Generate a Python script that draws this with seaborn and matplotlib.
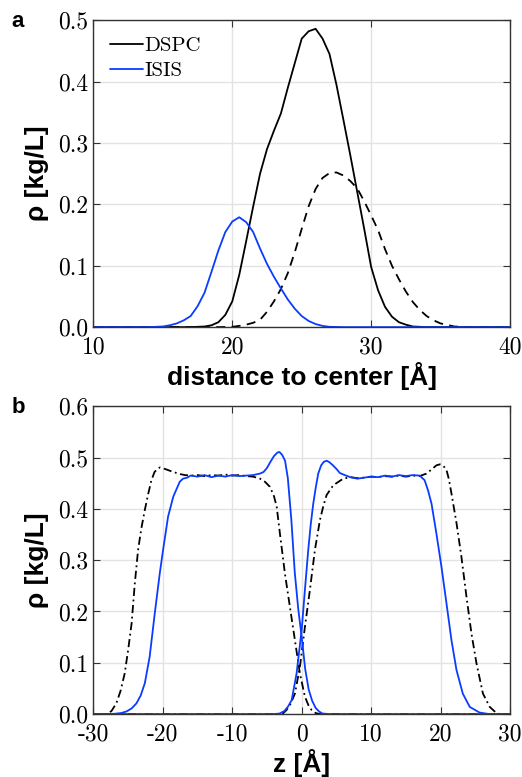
import matplotlib
matplotlib.use("Agg")
import matplotlib.pyplot as plt
import seaborn as sns

# panel a: density vs distance to center
dspc_x = [10, 17, 18, 18.5, 19, 19.5, 20, 20.5, 21, 21.5, 22, 22.5, 23, 23.5, 24, 24.5,
          25, 25.5, 26, 26.5, 27, 27.5, 28, 28.5, 29, 29.5, 30, 30.5, 31, 31.5, 32, 32.5,
          33, 34, 40]
dspc_y = [0, 0, 0.001, 0.003, 0.008, 0.02, 0.042, 0.085, 0.14, 0.196, 0.25, 0.29, 0.32,
          0.348, 0.39, 0.43, 0.47, 0.482, 0.486, 0.47, 0.445, 0.395, 0.338, 0.28, 0.22,
          0.16, 0.098, 0.06, 0.033, 0.017, 0.008, 0.004, 0.001, 0, 0]

dspc2_x = [10, 19, 20, 20.5, 21, 21.5, 22, 22.5, 23, 23.5, 24, 24.5, 25, 25.5, 26, 26.5,
           27, 27.5, 28, 28.5, 29, 29.5, 30, 30.5, 31, 31.5, 32, 32.5, 33, 33.5, 34, 34.5,
           35, 36, 37, 40]
dspc2_y = [0, 0, 0.0005, 0.002, 0.004, 0.007, 0.012, 0.025, 0.042, 0.062, 0.088, 0.122,
           0.16, 0.197, 0.225, 0.243, 0.251, 0.252, 0.247, 0.238, 0.226, 0.205, 0.182,
           0.158, 0.127, 0.1, 0.078, 0.058, 0.041, 0.028, 0.018, 0.011, 0.006, 0.001, 0, 0]

isis_x = [10, 14, 15, 15.5, 16, 16.5, 17, 17.5, 18, 18.5, 19, 19.5, 20, 20.5, 21, 21.5,
          22, 22.5, 23, 23.5, 24, 24.5, 25, 25.5, 26, 26.5, 27, 28, 40]
isis_y = [0, 0, 0.001, 0.003, 0.006, 0.011, 0.018, 0.034, 0.056, 0.09, 0.125, 0.155,
          0.172, 0.179, 0.171, 0.155, 0.128, 0.103, 0.082, 0.063, 0.045, 0.03, 0.018,
          0.01, 0.005, 0.002, 0.0005, 0, 0]

# panel b: density profile along z
isis_l_z = [-30, -27, -26, -25.25, -24.5, -23.8, -23.2, -22.6, -21.9, -21.17, -20.45,
            -19.97, -19.25, -18.5, -17.57, -17.1, -16.5, -16, -15, -14, -13, -12, -11,
            -10, -9, -8, -7, -6, -5.5, -5, -4.5, -4, -3.5, -3.2, -2.8, -2.4, -2.0, -1.5,
            -1.0, -0.5, 0, 0.5, 1.0, 1.5, 2.0, 2.5, 3.0, 4, 30]
isis_l_y = [0, 0.0005, 0.002, 0.005, 0.011, 0.021, 0.036, 0.06, 0.112, 0.196, 0.274,
            0.32, 0.385, 0.424, 0.453, 0.459, 0.461, 0.465, 0.463, 0.466, 0.462, 0.465,
            0.463, 0.466, 0.464, 0.465, 0.466, 0.469, 0.472, 0.48, 0.492, 0.503, 0.51,
            0.511, 0.505, 0.494, 0.46, 0.38, 0.276, 0.205, 0.15, 0.088, 0.048, 0.026,
            0.012, 0.005, 0.001, 0, 0]

isis_r_z = [-30, -4, -3.2, -2.5, -2, -1.45, -0.74, 0, 0.46, 0.94, 1.3, 1.66, 2.0, 2.38,
            2.8, 3.2, 3.6, 4.0, 4.5, 5, 5.5, 6.2, 7, 8, 9, 10, 11, 12, 13, 14, 15, 16, 17,
            17.7, 18.2, 18.7, 19.4, 20.13, 20.85, 21.57, 22.29, 23.2, 24.2, 25.6, 27, 30]
isis_r_y = [0, 0, 0.001, 0.006, 0.014, 0.027, 0.079, 0.165, 0.242, 0.32, 0.37, 0.41,
            0.44, 0.469, 0.485, 0.492, 0.494, 0.491, 0.485, 0.478, 0.47, 0.466, 0.462,
            0.459, 0.461, 0.463, 0.462, 0.465, 0.463, 0.466, 0.464, 0.466, 0.465, 0.456,
            0.436, 0.41, 0.352, 0.287, 0.216, 0.144, 0.086, 0.04, 0.014, 0.003, 0, 0]

dspc_l_z = [-30, -28, -27.4, -26.7, -26.1, -25.5, -25, -24.5, -24.04, -23.57, -23.1,
            -22.6, -22.1, -21.65, -21.2, -20.7, -20.4, -19.5, -18.5, -17.5, -16.85, -16,
            -15, -14, -13, -12, -11, -10, -9, -8, -7, -6, -5.3, -4.57, -4.0, -3.6, -3.14,
            -2.42, -1.7, -0.98, -0.26, 0.46, 1.0, 1.42, 2.0, 2.6, 30]
dspc_l_y = [0, 0, 0.006, 0.021, 0.045, 0.079, 0.125, 0.177, 0.255, 0.32, 0.362, 0.398,
            0.43, 0.456, 0.472, 0.479, 0.481, 0.477, 0.472, 0.468, 0.466, 0.465, 0.466,
            0.464, 0.466, 0.465, 0.467, 0.465, 0.466, 0.464, 0.463, 0.459, 0.453, 0.443,
            0.425, 0.404, 0.352, 0.274, 0.209, 0.144, 0.079, 0.034, 0.016, 0.008, 0.002,
            0, 0]

dspc_r_z = [-30, -2.8, -2.18, -1.6, -0.98, -0.26, 0.46, 1.18, 1.9, 2.62, 3.1, 3.58, 4.53,
            5.97, 7, 8, 9, 10, 11, 12, 13, 14, 15, 16, 17, 17.97, 18.8, 19.4, 19.9, 20.4,
            20.85, 21.2, 21.57, 22.3, 23.0, 23.73, 24.45, 25.17, 26.1, 27.08, 28.04, 28.5,
            30]
dspc_r_y = [0, 0, 0.008, 0.02, 0.04, 0.092, 0.17, 0.242, 0.32, 0.378, 0.405, 0.427,
            0.446, 0.459, 0.462, 0.46, 0.461, 0.463, 0.462, 0.464, 0.463, 0.465, 0.463,
            0.465, 0.464, 0.469, 0.478, 0.485, 0.487, 0.484, 0.476, 0.458, 0.43, 0.372,
            0.307, 0.229, 0.157, 0.099, 0.04, 0.014, 0.002, 0, 0]

xticks_a = [10, 20, 30, 40]
yticks_a = [0, 0.1, 0.2, 0.3, 0.4, 0.5]
xticks_b = [-30, -20, -10, 0, 10, 20, 30]
yticks_b = [0, 0.1, 0.2, 0.3, 0.4, 0.5, 0.6]

BLUE = "#0a3cff"
sns.set_style("ticks")
plt.rcParams["font.family"] = ["Liberation Sans", "DejaVu Sans"]
plt.rcParams["text.color"] = "black"
plt.rcParams["axes.labelcolor"] = "black"

fig = plt.figure(figsize=(5.22, 7.77), dpi=100)
ax1 = fig.add_axes([0.179, 0.579, 0.798, 0.395])
ax2 = fig.add_axes([0.179, 0.081, 0.798, 0.396])

sns.lineplot(x=dspc_x, y=dspc_y, ax=ax1, color="black", lw=1.3, label="DSPC",
             sort=False, errorbar=None)
sns.lineplot(x=dspc2_x, y=dspc2_y, ax=ax1, color="black", lw=1.3, sort=False,
             errorbar=None, linestyle=(0, (5, 3.5)))
sns.lineplot(x=isis_x, y=isis_y, ax=ax1, color=BLUE, lw=1.3, label="ISIS",
             sort=False, errorbar=None)

sns.lineplot(x=dspc_l_z, y=dspc_l_y, ax=ax2, color="black", lw=1.3, sort=False,
             errorbar=None, linestyle=(0, (4.5, 2, 1, 2)))
sns.lineplot(x=dspc_r_z, y=dspc_r_y, ax=ax2, color="black", lw=1.3, sort=False,
             errorbar=None, linestyle=(0, (4.5, 2, 1, 2)))
sns.lineplot(x=isis_l_z, y=isis_l_y, ax=ax2, color=BLUE, lw=1.3, sort=False,
             errorbar=None)
sns.lineplot(x=isis_r_z, y=isis_r_y, ax=ax2, color=BLUE, lw=1.3, sort=False,
             errorbar=None)

tick_font = dict(family="cmr10", size=17, color="black")
for ax, xt, yt in [(ax1, xticks_a, yticks_a), (ax2, xticks_b, yticks_b)]:
    ax.set_xlim(xt[0], xt[-1])
    ax.set_ylim(yt[0], yt[-1])
    ax.set_xticks(xt)
    ax.set_yticks(yt)
    ax.set_xticklabels([str(v) for v in xt], fontdict=tick_font)
    ax.set_yticklabels([f"{v:.1f}" for v in yt], fontdict=tick_font)
    ax.grid(True, color="#e3e3e3", lw=1)
    ax.set_axisbelow(True)
    ax.tick_params(direction="in", top=True, right=True, length=5, width=0.8,
                   color="#333333")
    ax.tick_params(axis="x", pad=7)
    ax.tick_params(axis="y", pad=4)
    for s in ax.spines.values():
        s.set_color("#333333")
        s.set_linewidth(1.0)

ax1.set_xlabel("distance to center [Å]", fontsize=19, fontweight="bold", labelpad=2)
ax1.set_ylabel("ρ [kg/L]", fontsize=19, fontweight="bold", labelpad=6)
ax2.set_xlabel("z [Å]", fontsize=19, fontweight="bold", labelpad=2)
ax2.set_ylabel("ρ [kg/L]", fontsize=19, fontweight="bold", labelpad=6)

ax1.legend(loc="upper left", frameon=False, prop=dict(family="cmr10", size=15),
           handlelength=1.6, handletextpad=0.05, borderaxespad=0.4, labelspacing=0.3)

fig.text(0.022, 0.965, "a", fontsize=16, fontweight="bold")
fig.text(0.022, 0.469, "b", fontsize=16, fontweight="bold")

fig.savefig("out.png", dpi=100)
